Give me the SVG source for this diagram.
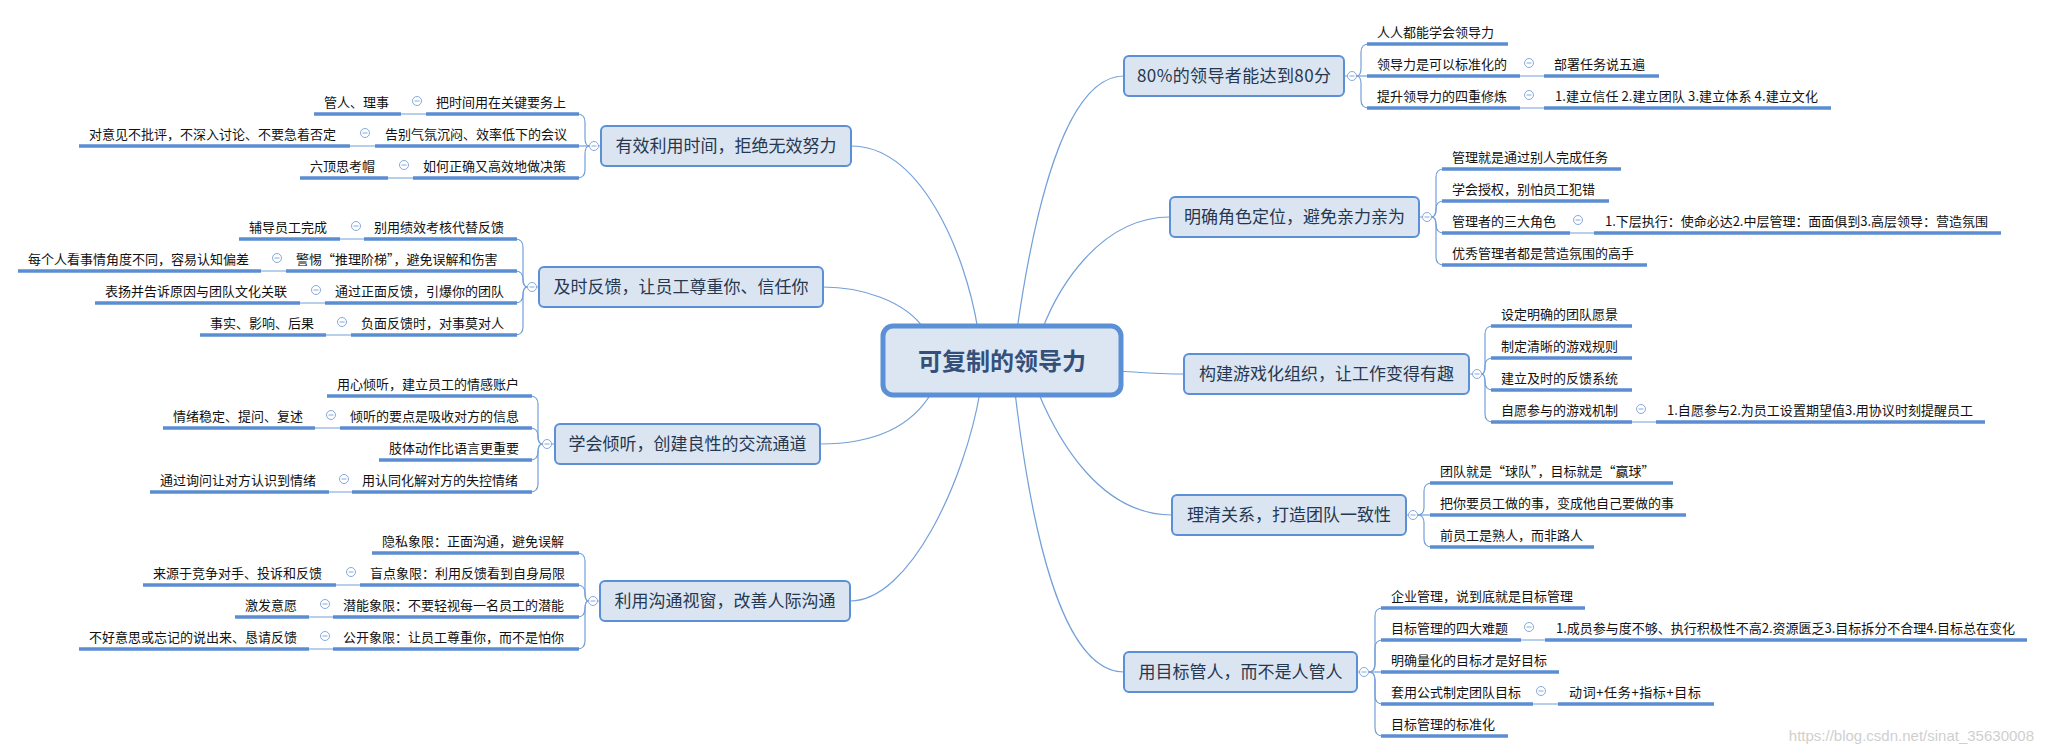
<svg xmlns="http://www.w3.org/2000/svg" width="2045" height="753" viewBox="0 0 2045 753">
<style>
text{font-family:"Noto Sans CJK SC","Microsoft YaHei",sans-serif}
.box{fill:#dbe5f2;stroke:#5b8fd6;stroke-width:2}
.root{fill:#dce6f2;stroke:#5b8fd6;stroke-width:5}
.bt{font-size:17px;fill:#263850;text-anchor:middle}
.rt{font-size:24px;font-weight:bold;fill:#34507a;text-anchor:middle}
.ul{stroke:#5b8dd2;stroke-width:3.5;fill:none}
.t{font-size:13px;fill:#111}
.c{fill:none;stroke:#73a0da;stroke-width:1.2}
.wm{font-family:"Liberation Sans",Arial,sans-serif;font-size:15px;fill:#cfcfcf;text-anchor:end}
</style>
<defs>
<g id="minus"><circle r="4.5" fill="#fff" stroke="#86a9dc" stroke-width="1"/><path d="M-2.5 0H2.5" stroke="#86a9dc" stroke-width="1"/></g>
</defs>
<rect width="2045" height="753" fill="#fff"/>

<g id="connectors">
<path class="c" d="M1017 330 C1037 190 1070 76 1124 76"/>
<path class="c" d="M1042 330 C1058 288 1100 217 1170 217"/>
<path class="c" d="M1118 371 C1150 373 1160 374 1184 374"/>
<path class="c" d="M1038 392 C1058 440 1100 515 1172 515"/>
<path class="c" d="M1015 392 C1030 520 1060 672 1124 672"/>
<path class="c" d="M978 330 C965 250 920 146 851 146"/>
<path class="c" d="M925 330 C905 300 860 287 823 287"/>
<path class="c" d="M932 392 C910 430 870 444 820 444"/>
<path class="c" d="M980 392 C965 480 910 601 850 601"/>
<path class="c" d="M1344 76H1348M1419 217H1423M1469 374H1473M1406 515H1409M1357 672H1360M601 146H598M539 287H536M555 444H551M600 601H597"/>
<path class="c" d="M1356.5 76 Q1361 76 1361 68 V52 Q1361 44 1369 44"/>
<path class="c" d="M1356.5 76 H1369"/>
<path class="c" d="M1356.5 76 Q1361 76 1361 84 V100 Q1361 108 1369 108"/>
<path class="c" d="M1431.5 217 Q1436 217 1436 209 V177 Q1436 169 1444 169"/>
<path class="c" d="M1431.5 217 Q1436 217 1436 209 Q1436 201 1444 201"/>
<path class="c" d="M1431.5 217 Q1436 217 1436 225 Q1436 233 1444 233"/>
<path class="c" d="M1431.5 217 Q1436 217 1436 225 V257 Q1436 265 1444 265"/>
<path class="c" d="M1481.5 374 Q1485 374 1485 366 V334 Q1485 326 1493 326"/>
<path class="c" d="M1481.5 374 Q1485 374 1485 366 Q1485 358 1493 358"/>
<path class="c" d="M1481.5 374 Q1485 374 1485 382 Q1485 390 1493 390"/>
<path class="c" d="M1481.5 374 Q1485 374 1485 382 V414 Q1485 422 1493 422"/>
<path class="c" d="M1417.5 515 Q1424 515 1424 507 V491 Q1424 483 1432 483"/>
<path class="c" d="M1417.5 515 H1432"/>
<path class="c" d="M1417.5 515 Q1424 515 1424 523 V539 Q1424 547 1432 547"/>
<path class="c" d="M1368.5 672 Q1375 672 1375 664 V616 Q1375 608 1383 608"/>
<path class="c" d="M1368.5 672 Q1375 672 1375 664 V648 Q1375 640 1383 640"/>
<path class="c" d="M1368.5 672 H1383"/>
<path class="c" d="M1368.5 672 Q1375 672 1375 680 V696 Q1375 704 1383 704"/>
<path class="c" d="M1368.5 672 Q1375 672 1375 680 V728 Q1375 736 1383 736"/>
<path class="c" d="M589.5 146 Q585 146 585 138 V122 Q585 114 577 114"/>
<path class="c" d="M589.5 146 H577"/>
<path class="c" d="M589.5 146 Q585 146 585 154 V170 Q585 178 577 178"/>
<path class="c" d="M527.5 287 Q523 287 523 279 V247 Q523 239 515 239"/>
<path class="c" d="M527.5 287 Q523 287 523 279 Q523 271 515 271"/>
<path class="c" d="M527.5 287 Q523 287 523 295 Q523 303 515 303"/>
<path class="c" d="M527.5 287 Q523 287 523 295 V327 Q523 335 515 335"/>
<path class="c" d="M542.5 444 Q538 444 538 436 V404 Q538 396 530 396"/>
<path class="c" d="M542.5 444 Q538 444 538 436 Q538 428 530 428"/>
<path class="c" d="M542.5 444 Q538 444 538 452 Q538 460 530 460"/>
<path class="c" d="M542.5 444 Q538 444 538 452 V484 Q538 492 530 492"/>
<path class="c" d="M588.5 601 Q585 601 585 593 V561 Q585 553 577 553"/>
<path class="c" d="M588.5 601 Q585 601 585 593 Q585 585 577 585"/>
<path class="c" d="M588.5 601 Q585 601 585 609 Q585 617 577 617"/>
<path class="c" d="M588.5 601 Q585 601 585 609 V641 Q585 649 577 649"/>
<path class="c" d="M1520 76H1544M1520 108H1544M1570 233H1594M1632 422H1656M1521 640H1545M1533 704H1558"/>
<path class="c" d="M401 114H426M350 146H375M388 178H413M340 239H364M261 271H286M300 303H325M326 335H351M315 428H340M329 492H352M336 585H360M309 617H333M309 649H333"/>
</g>

<g id="root">
<rect class="root" x="883" y="326" width="238" height="69" rx="10"/>
<text class="rt" x="1002" y="370">可复制的领导力</text>
</g>

<g id="r1">
<rect class="box" x="1124" y="56" width="220" height="40" rx="5"/>
<text class="bt" x="1234" y="82" textLength="194" lengthAdjust="spacing">80%的领导者能达到80分</text>
<use href="#minus" x="1352" y="76"/>
</g>
<g id="r1-1"><path class="ul" d="M1367 44H1508"/><text class="t" x="1377" y="37">人人都能学会领导力</text></g>
<g id="r1-2"><path class="ul" d="M1367 76H1520"/><text class="t" x="1377" y="69">领导力是可以标准化的</text><use href="#minus" x="1529" y="63"/></g>
<g id="r1-2-1"><path class="ul" d="M1544 76H1659"/><text class="t" x="1554" y="69">部署任务说五遍</text></g>
<g id="r1-3"><path class="ul" d="M1367 108H1520"/><text class="t" x="1377" y="101">提升领导力的四重修炼</text><use href="#minus" x="1529" y="95"/></g>
<g id="r1-3-1"><path class="ul" d="M1544 108H1831"/><text class="t" x="1555" y="101" textLength="263" lengthAdjust="spacing">1.建立信任 2.建立团队 3.建立体系 4.建立文化</text></g>

<g id="r2">
<rect class="box" x="1170" y="197" width="249" height="40" rx="5"/>
<text class="bt" x="1294.5" y="223">明确角色定位，避免亲力亲为</text>
<use href="#minus" x="1427" y="217"/>
</g>
<g id="r2-1"><path class="ul" d="M1442 169H1621"/><text class="t" x="1452" y="162">管理就是通过别人完成任务</text></g>
<g id="r2-2"><path class="ul" d="M1442 201H1609"/><text class="t" x="1452" y="194">学会授权，别怕员工犯错</text></g>
<g id="r2-3"><path class="ul" d="M1442 233H1570"/><text class="t" x="1452" y="226">管理者的三大角色</text><use href="#minus" x="1578" y="220"/></g>
<g id="r2-3-1"><path class="ul" d="M1594 233H2001"/><text class="t" x="1605" y="226" textLength="383" lengthAdjust="spacing">1.下层执行：使命必达2.中层管理：面面俱到3.高层领导：营造氛围</text></g>
<g id="r2-4"><path class="ul" d="M1442 265H1647"/><text class="t" x="1452" y="258">优秀管理者都是营造氛围的高手</text></g>

<g id="r3">
<rect class="box" x="1184" y="354" width="285" height="40" rx="5"/>
<text class="bt" x="1326.5" y="380">构建游戏化组织，让工作变得有趣</text>
<use href="#minus" x="1477" y="374"/>
</g>
<g id="r3-1"><path class="ul" d="M1491 326H1632"/><text class="t" x="1501" y="319">设定明确的团队愿景</text></g>
<g id="r3-2"><path class="ul" d="M1491 358H1632"/><text class="t" x="1501" y="351">制定清晰的游戏规则</text></g>
<g id="r3-3"><path class="ul" d="M1491 390H1632"/><text class="t" x="1501" y="383">建立及时的反馈系统</text></g>
<g id="r3-4"><path class="ul" d="M1491 422H1632"/><text class="t" x="1501" y="415">自愿参与的游戏机制</text><use href="#minus" x="1641" y="409"/></g>
<g id="r3-4-1"><path class="ul" d="M1656 422H1985"/><text class="t" x="1667" y="415" textLength="306" lengthAdjust="spacing">1.自愿参与2.为员工设置期望值3.用协议时刻提醒员工</text></g>

<g id="r4">
<rect class="box" x="1172" y="495" width="234" height="40" rx="5"/>
<text class="bt" x="1289" y="521">理清关系，打造团队一致性</text>
<use href="#minus" x="1413" y="515"/>
</g>
<g id="r4-1"><path class="ul" d="M1430 483H1673"/><text class="t" x="1440" y="476">团队就是“球队”，目标就是“赢球”</text></g>
<g id="r4-2"><path class="ul" d="M1430 515H1686"/><text class="t" x="1440" y="508">把你要员工做的事，变成他自己要做的事</text></g>
<g id="r4-3"><path class="ul" d="M1430 547H1594"/><text class="t" x="1440" y="540">前员工是熟人，而非路人</text></g>

<g id="r5">
<rect class="box" x="1124" y="652" width="233" height="40" rx="5"/>
<text class="bt" x="1240.5" y="678">用目标管人，而不是人管人</text>
<use href="#minus" x="1364" y="672"/>
</g>
<g id="r5-1"><path class="ul" d="M1381 608H1585"/><text class="t" x="1391" y="601">企业管理，说到底就是目标管理</text></g>
<g id="r5-2"><path class="ul" d="M1381 640H1521"/><text class="t" x="1391" y="633">目标管理的四大难题</text><use href="#minus" x="1529" y="627"/></g>
<g id="r5-2-1"><path class="ul" d="M1545 640H2027"/><text class="t" x="1556" y="633" textLength="459" lengthAdjust="spacing">1.成员参与度不够、执行积极性不高2.资源匮乏3.目标拆分不合理4.目标总在变化</text></g>
<g id="r5-3"><path class="ul" d="M1381 672H1559"/><text class="t" x="1391" y="665">明确量化的目标才是好目标</text></g>
<g id="r5-4"><path class="ul" d="M1381 704H1533"/><text class="t" x="1391" y="697">套用公式制定团队目标</text><use href="#minus" x="1541" y="691"/></g>
<g id="r5-4-1"><path class="ul" d="M1558 704H1714"/><text class="t" x="1569" y="697" textLength="132" lengthAdjust="spacing">动词+任务+指标+目标</text></g>
<g id="r5-5"><path class="ul" d="M1381 736H1508"/><text class="t" x="1391" y="729">目标管理的标准化</text></g>

<g id="l1">
<rect class="box" x="601" y="126" width="250" height="40" rx="5"/>
<text class="bt" x="726" y="152">有效利用时间，拒绝无效努力</text>
<use href="#minus" x="594" y="146"/>
</g>
<g id="l1-1"><path class="ul" d="M426 114H579"/><text class="t" x="436" y="107">把时间用在关键要务上</text><use href="#minus" x="417" y="101"/></g>
<g id="l1-1-1"><path class="ul" d="M314 114H401"/><text class="t" x="324" y="107">管人、理事</text></g>
<g id="l1-2"><path class="ul" d="M375 146H579"/><text class="t" x="385" y="139">告别气氛沉闷、效率低下的会议</text><use href="#minus" x="365" y="133"/></g>
<g id="l1-2-1"><path class="ul" d="M79 146H350"/><text class="t" x="89" y="139">对意见不批评，不深入讨论、不要急着否定</text></g>
<g id="l1-3"><path class="ul" d="M413 178H579"/><text class="t" x="423" y="171">如何正确又高效地做决策</text><use href="#minus" x="404" y="165"/></g>
<g id="l1-3-1"><path class="ul" d="M300 178H388"/><text class="t" x="310" y="171">六顶思考帽</text></g>

<g id="l2">
<rect class="box" x="539" y="267" width="284" height="40" rx="5"/>
<text class="bt" x="681" y="293">及时反馈，让员工尊重你、信任你</text>
<use href="#minus" x="532" y="287"/>
</g>
<g id="l2-1"><path class="ul" d="M364 239H517"/><text class="t" x="374" y="232">别用绩效考核代替反馈</text><use href="#minus" x="356" y="226"/></g>
<g id="l2-1-1"><path class="ul" d="M239 239H340"/><text class="t" x="249" y="232">辅导员工完成</text></g>
<g id="l2-2"><path class="ul" d="M286 271H517"/><text class="t" x="296" y="264">警惕“推理阶梯”，避免误解和伤害</text><use href="#minus" x="277" y="258"/></g>
<g id="l2-2-1"><path class="ul" d="M18 271H261"/><text class="t" x="28" y="264">每个人看事情角度不同，容易认知偏差</text></g>
<g id="l2-3"><path class="ul" d="M325 303H517"/><text class="t" x="335" y="296">通过正面反馈，引爆你的团队</text><use href="#minus" x="316" y="290"/></g>
<g id="l2-3-1"><path class="ul" d="M95 303H300"/><text class="t" x="105" y="296">表扬并告诉原因与团队文化关联</text></g>
<g id="l2-4"><path class="ul" d="M351 335H517"/><text class="t" x="361" y="328">负面反馈时，对事莫对人</text><use href="#minus" x="342" y="322"/></g>
<g id="l2-4-1"><path class="ul" d="M200 335H326"/><text class="t" x="210" y="328">事实、影响、后果</text></g>

<g id="l3">
<rect class="box" x="555" y="424" width="265" height="40" rx="5"/>
<text class="bt" x="687.5" y="450">学会倾听，创建良性的交流通道</text>
<use href="#minus" x="547" y="444"/>
</g>
<g id="l3-1"><path class="ul" d="M327 396H532"/><text class="t" x="337" y="389">用心倾听，建立员工的情感账户</text></g>
<g id="l3-2"><path class="ul" d="M340 428H532"/><text class="t" x="350" y="421">倾听的要点是吸收对方的信息</text><use href="#minus" x="331" y="415"/></g>
<g id="l3-2-1"><path class="ul" d="M163 428H315"/><text class="t" x="173" y="421">情绪稳定、提问、复述</text></g>
<g id="l3-3"><path class="ul" d="M379 460H532"/><text class="t" x="389" y="453">肢体动作比语言更重要</text></g>
<g id="l3-4"><path class="ul" d="M352 492H532"/><text class="t" x="362" y="485">用认同化解对方的失控情绪</text><use href="#minus" x="344" y="479"/></g>
<g id="l3-4-1"><path class="ul" d="M150 492H329"/><text class="t" x="160" y="485">通过询问让对方认识到情绪</text></g>

<g id="l4">
<rect class="box" x="600" y="581" width="250" height="40" rx="5"/>
<text class="bt" x="725" y="607">利用沟通视窗，改善人际沟通</text>
<use href="#minus" x="593" y="601"/>
</g>
<g id="l4-1"><path class="ul" d="M372 553H579"/><text class="t" x="382" y="546">隐私象限：正面沟通，避免误解</text></g>
<g id="l4-2"><path class="ul" d="M360 585H579"/><text class="t" x="370" y="578">盲点象限：利用反馈看到自身局限</text><use href="#minus" x="351" y="572"/></g>
<g id="l4-2-1"><path class="ul" d="M143 585H336"/><text class="t" x="153" y="578">来源于竞争对手、投诉和反馈</text></g>
<g id="l4-3"><path class="ul" d="M333 617H579"/><text class="t" x="343" y="610">潜能象限：不要轻视每一名员工的潜能</text><use href="#minus" x="325" y="604"/></g>
<g id="l4-3-1"><path class="ul" d="M235 617H309"/><text class="t" x="245" y="610">激发意愿</text></g>
<g id="l4-4"><path class="ul" d="M333 649H579"/><text class="t" x="343" y="642">公开象限：让员工尊重你，而不是怕你</text><use href="#minus" x="325" y="636"/></g>
<g id="l4-4-1"><path class="ul" d="M79 649H309"/><text class="t" x="89" y="642">不好意思或忘记的说出来、恳请反馈</text></g>

<text class="wm" x="2034" y="741">https://blog.csdn.net/sinat_35630008</text>
</svg>
